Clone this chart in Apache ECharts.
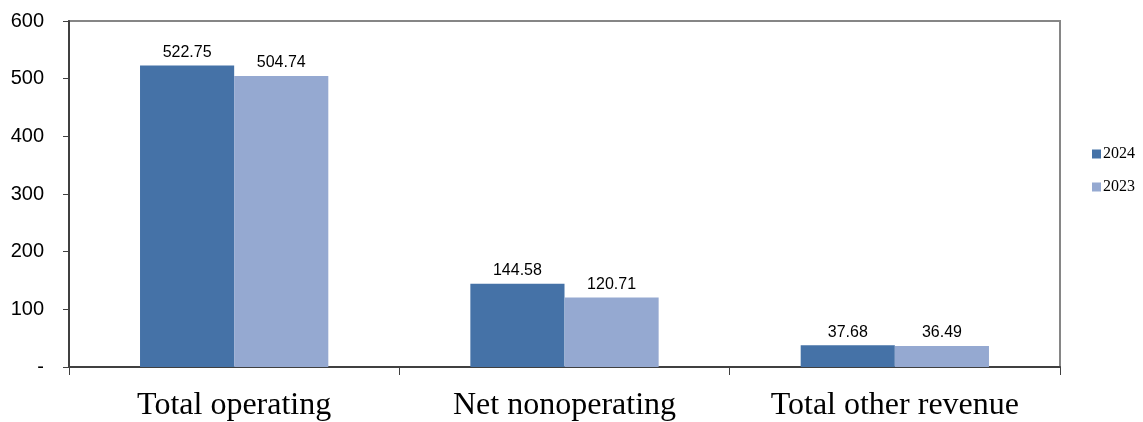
<!DOCTYPE html>
<html>
<head>
<meta charset="utf-8">
<style>
  html, body { margin: 0; padding: 0; background: #ffffff; }
  #chart { width: 1143px; height: 422px; }
</style>
<script src="https://cdn.jsdelivr.net/npm/echarts@6/dist/echarts.min.js"></script>
</head>
<body>
<div id="chart"></div>
<script>
// Revenue by category, 2024 vs 2023
const categories = ['Total operating', 'Net nonoperating', 'Total other revenue'];
const values2024 = [522.75, 144.58, 37.68];
const values2023 = [504.74, 120.71, 36.49];
const seriesNames = ['2024', '2023'];
const yTicks = [0, 100, 200, 300, 400, 500, 600];

const chart = echarts.init(document.getElementById('chart'));

const labelStyle = {
  show: true,
  position: 'top',
  distance: 5,
  fontFamily: 'Liberation Sans, Arial, sans-serif',
  fontSize: 16,
  color: '#000000',
  formatter: p => p.value.toFixed(2)
};

chart.setOption({
  animation: false,
  backgroundColor: '#ffffff',
  grid: {
    left: 69, right: 83, top: 21, bottom: 54,
    show: true,
    borderColor: '#868686',
    borderWidth: 2,
    containLabel: false
  },
  legend: {
    orient: 'vertical',
    left: 1087,
    top: 141,
    itemWidth: 9,
    itemHeight: 9,
    itemGap: 17,
    icon: 'rect',
    textStyle: { fontFamily: 'Liberation Serif, Times New Roman, serif', fontSize: 16, color: '#000000', padding: [0, 0, 0, -3] },
    data: seriesNames
  },
  xAxis: {
    type: 'category',
    data: categories,
    axisLine: { lineStyle: { color: '#404040', width: 2 } },
    axisTick: { show: true, length: 8, lineStyle: { color: '#404040', width: 1 } },
    axisLabel: {
      fontFamily: 'Liberation Serif, Times New Roman, serif',
      fontSize: 32,
      color: '#000000',
      margin: 23
    },
    splitLine: { show: false }
  },
  yAxis: {
    type: 'value',
    min: yTicks[0],
    max: yTicks[yTicks.length - 1],
    interval: 100,
    axisLine: { show: true, lineStyle: { color: '#404040', width: 2 } },
    axisTick: { show: true, length: 6, lineStyle: { color: '#404040', width: 1 } },
    axisLabel: {
      fontFamily: 'Liberation Sans, Arial, sans-serif',
      fontSize: 20,
      color: '#000000',
      margin: 25,
      formatter: v => (v === 0 ? '-' : String(v))
    },
    splitLine: { show: false }
  },
  series: [
    {
      name: seriesNames[0],
      type: 'bar',
      data: values2024,
      itemStyle: { color: '#4572A7' },
      barGap: '0%',
      barCategoryGap: '43%',
      label: labelStyle
    },
    {
      name: seriesNames[1],
      type: 'bar',
      data: values2023,
      itemStyle: { color: '#95A9D1' },
      barGap: '0%',
      barCategoryGap: '43%',
      label: labelStyle
    }
  ]
});
</script>
</body>
</html>
